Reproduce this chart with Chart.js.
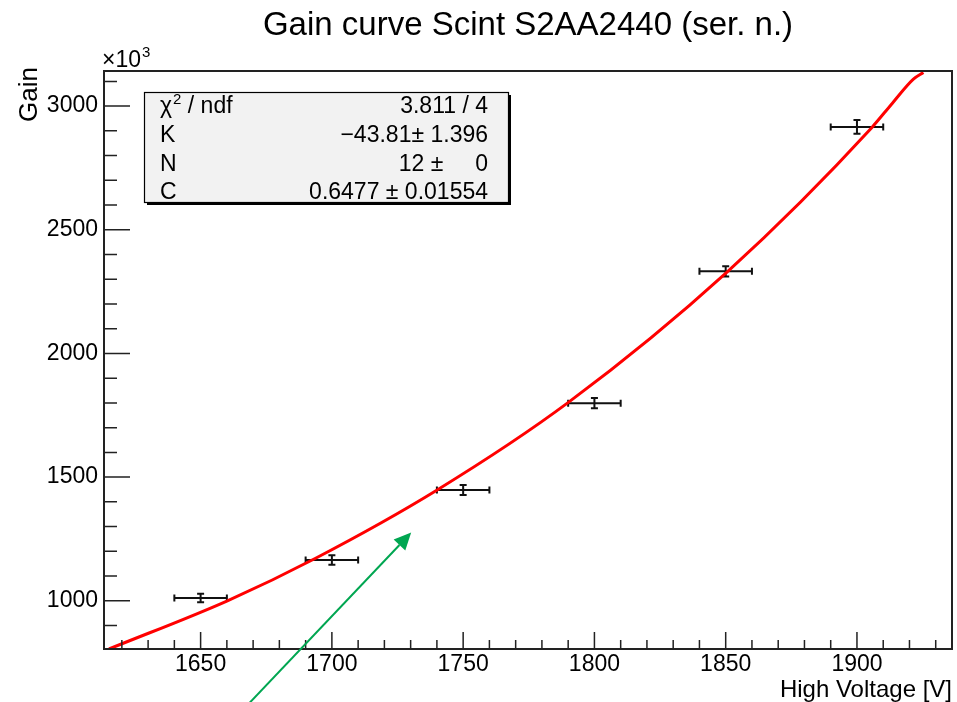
<!DOCTYPE html>
<html><head><meta charset="utf-8">
<script src="https://cdn.jsdelivr.net/npm/chart.js@4.4.0/dist/chart.umd.min.js"></script>
<style>html,body{margin:0;padding:0;background:#fff;}#wrap{width:957px;height:702px;position:relative;}</style>
</head><body><div id="wrap"><canvas id="c" width="957" height="702"></canvas></div>
<script>
// Measured points
const voltages = [1650, 1700, 1750, 1800, 1850, 1900];
const gains = [1011, 1165, 1448, 1799, 2332, 2916];
const gainErrors = [17, 19, 20, 21, 21, 28];
const voltageErrors = [10, 10, 10, 10, 10, 10];
// Fit curve
const fitVoltages = [1615.1, 1660.2, 1693.8, 1740.1, 1790.2, 1850.5, 1905.7, 1913.5, 1921.5, 1925.3];
const fitGains = [805, 1000, 1172, 1448, 1803, 2329, 2914, 3012, 3109, 3136];
// Axes
const xTickValues = [1650, 1700, 1750, 1800, 1850, 1900];
const yTickValues = [1000, 1500, 2000, 2500, 3000];
// Stats box
const statsLabels = ['χ', 'K', 'N', 'C'];
const statsValues = ['3.811 / 4', '\u221243.81\u00b1 1.396', '12 \u00b1     0', '0.6477 \u00b1 0.01554'];
// Arrow annotation (data coordinates: tail, tip)
const arrowTail = [1668, 580];
const arrowTip = [1730.2, 1275.6];

const FONT = 'Liberation Sans, Arial, Helvetica, sans-serif';

const rootPlugin = {
  id: 'rootStyle',
  beforeDatasetsDraw(chart) {
    const c = chart.ctx, xs = chart.scales.x, ys = chart.scales.y;
    c.save();
    c.strokeStyle = '#111';
    c.lineWidth = 2;
    for (let i = 0; i < voltages.length; i++) {
      const px = xs.getPixelForValue(voltages[i]);
      const py = ys.getPixelForValue(gains[i]);
      const xl = xs.getPixelForValue(voltages[i] - voltageErrors[i]);
      const xr = xs.getPixelForValue(voltages[i] + voltageErrors[i]);
      const yt = ys.getPixelForValue(gains[i] + gainErrors[i]);
      const yb = ys.getPixelForValue(gains[i] - gainErrors[i]);
      c.beginPath();
      c.moveTo(xl, py); c.lineTo(xr, py);
      c.moveTo(xl, py - 3.5); c.lineTo(xl, py + 3.5);
      c.moveTo(xr, py - 3.5); c.lineTo(xr, py + 3.5);
      c.moveTo(px, yt); c.lineTo(px, yb);
      c.moveTo(px - 3.5, yt); c.lineTo(px + 3.5, yt);
      c.moveTo(px - 3.5, yb); c.lineTo(px + 3.5, yb);
      c.stroke();
    }
    c.restore();
  },
  afterDraw(chart) {
    const c = chart.ctx, xs = chart.scales.x, ys = chart.scales.y, a = chart.chartArea;
    c.save();
    // ticks inside frame
    c.strokeStyle = '#222';
    c.lineWidth = 1.5;
    c.beginPath();
    for (let v = 1620; v <= 1930; v += 10) {
      const px = xs.getPixelForValue(v);
      const len = (v % 50 === 0) ? 17 : 9;
      c.moveTo(px, a.bottom); c.lineTo(px, a.bottom - len);
    }
    for (let v = 900; v <= 3100; v += 100) {
      const py = ys.getPixelForValue(v);
      const len = (v % 500 === 0) ? 26 : 13;
      c.moveTo(a.left, py); c.lineTo(a.left + len, py);
    }
    c.stroke();
    // frame
    c.strokeStyle = '#222';
    c.lineWidth = 2;
    c.strokeRect(a.left, a.top, a.right - a.left, a.bottom - a.top);

    // arrow
    const tx = xs.getPixelForValue(arrowTip[0]), ty = ys.getPixelForValue(arrowTip[1]);
    const sx = xs.getPixelForValue(arrowTail[0]), sy = ys.getPixelForValue(arrowTail[1]);
    const ang = Math.atan2(ty - sy, tx - sx);
    const hl = 17, hw = 8;
    const bx = tx - hl * Math.cos(ang), by = ty - hl * Math.sin(ang);
    c.strokeStyle = '#00a651';
    c.fillStyle = '#00a651';
    c.lineWidth = 2;
    c.beginPath(); c.moveTo(sx, sy); c.lineTo(bx, by); c.stroke();
    c.beginPath();
    c.moveTo(tx, ty);
    c.lineTo(bx + hw * Math.sin(ang), by - hw * Math.cos(ang));
    c.lineTo(bx - hw * Math.sin(ang), by + hw * Math.cos(ang));
    c.closePath(); c.fill();

    // title
    c.fillStyle = '#000';
    c.font = '33px ' + FONT;
    c.textAlign = 'center';
    c.textBaseline = 'alphabetic';
    c.fillText('Gain curve Scint S2AA2440 (ser. n.)', (a.left + a.right) / 2, 35);

    // x title
    c.font = '24px ' + FONT;
    c.textAlign = 'right';
    c.fillText('High Voltage [V]', a.right, 697);

    // y title
    c.save();
    c.translate(37, a.top - 4);
    c.rotate(-Math.PI / 2);
    c.textAlign = 'right';
    c.font = '26px ' + FONT;
    c.fillText('Gain', 0, 0);
    c.restore();

    // x10^3
    c.textAlign = 'left';
    c.font = '23px ' + FONT;
    c.fillText('\u00d710', a.left - 2, 67);
    const w10 = c.measureText('\u00d710').width;
    c.font = '15px ' + FONT;
    c.fillText('3', a.left - 2 + w10 + 1, 57);

    // stats box
    const bxl = 144, byt = 92, bw = 364, bh = 110;
    c.fillStyle = '#000';
    c.fillRect(bxl + 3, byt + 3, bw, bh);
    c.fillStyle = '#f2f2f2';
    c.fillRect(bxl, byt, bw, bh);
    c.strokeStyle = '#000';
    c.lineWidth = 1.2;
    c.strokeRect(bxl + 0.5, byt + 0.5, bw, bh);
    const rows = [113, 142, 170.5, 199];
    c.fillStyle = '#000';
    for (let i = 0; i < statsLabels.length; i++) {
      c.font = '23px ' + FONT;
      c.textAlign = 'left';
      if (i === 0) {
        c.fillText('\u03c7', 160, rows[i]);
        const wc = c.measureText('\u03c7').width;
        c.font = '15px ' + FONT;
        c.fillText('2', 160 + wc + 1, rows[i] - 9);
        const w2 = c.measureText('2').width;
        c.font = '23px ' + FONT;
        c.fillText(' / ndf', 160 + wc + 1 + w2, rows[i]);
      } else {
        c.fillText(statsLabels[i], 160, rows[i]);
      }
      c.textAlign = 'right';
      c.fillText(statsValues[i], 488, rows[i]);
    }
    c.restore();
  }
};

new Chart(document.getElementById('c'), {
  type: 'scatter',
  data: {
    datasets: [
      {
        type: 'line',
        data: fitVoltages.map((v, i) => ({ x: v, y: fitGains[i] })),
        borderColor: '#ff0000',
        borderWidth: 3,
        pointRadius: 0,
        cubicInterpolationMode: 'monotone',
        fill: false
      },
      {
        data: voltages.map((v, i) => ({ x: v, y: gains[i] })),
        pointRadius: 0,
        showLine: false
      }
    ]
  },
  options: {
    responsive: false,
    animation: false,
    devicePixelRatio: 1,
    layout: { padding: { top: 71, right: 5, left: 0, bottom: 0 } },
    plugins: { legend: { display: false }, tooltip: { enabled: false }, title: { display: false } },
    scales: {
      x: {
        type: 'linear', min: 1613.2, max: 1936.2,
        grid: { display: false, drawTicks: false }, border: { display: false },
        afterBuildTicks: s => { s.ticks = xTickValues.map(v => ({ value: v })); },
        afterFit: s => { s.height = 53; },
        ticks: { font: { family: FONT, size: 23 }, color: '#000', padding: 2, maxRotation: 0, autoSkip: false,
                 callback: v => String(v) }
      },
      y: {
        type: 'linear', min: 805, max: 3142,
        grid: { display: false, drawTicks: false }, border: { display: false },
        afterBuildTicks: s => { s.ticks = yTickValues.map(v => ({ value: v })); },
        afterFit: s => { s.width = 104; },
        ticks: { font: { family: FONT, size: 23 }, color: '#000', padding: 6, autoSkip: false,
                 callback: v => String(v) }
      }
    }
  },
  plugins: [rootPlugin]
});
</script>
</body></html>
